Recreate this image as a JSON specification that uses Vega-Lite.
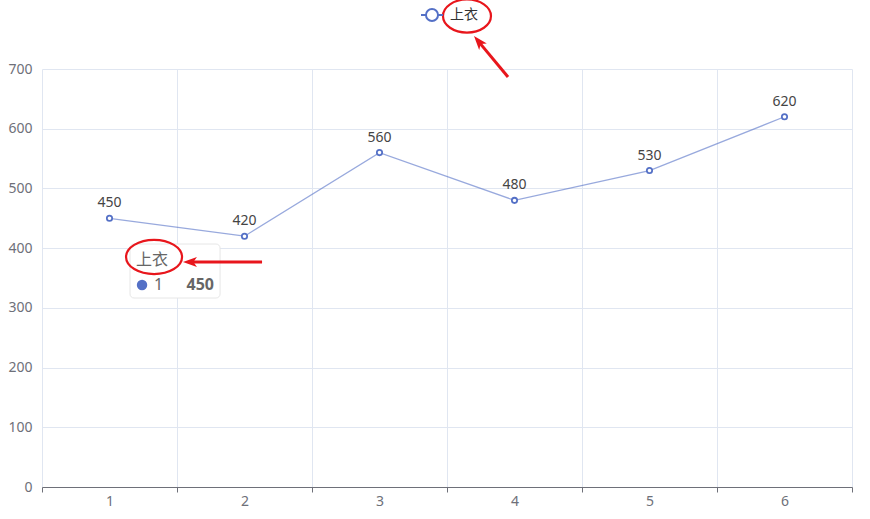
{
  "$schema": "https://vega.github.io/schema/vega-lite/v6.json",
  "width": 810,
  "height": 418,
  "autosize": {"type": "none"},
  "padding": {"left": 42, "top": 69, "right": 18, "bottom": 32},
  "background": "white",
  "config": {
    "view": {"stroke": null},
    "font": "Noto Sans, Noto Sans CJK SC"
  },
  "datasets": {
    "sales": [
      {"idx": 1, "value": 450, "series": "上衣"},
      {"idx": 2, "value": 420, "series": "上衣"},
      {"idx": 3, "value": 560, "series": "上衣"},
      {"idx": 4, "value": 480, "series": "上衣"},
      {"idx": 5, "value": 530, "series": "上衣"},
      {"idx": 6, "value": 620, "series": "上衣"}
    ],
    "tip": [
      {"title": "上衣", "name": "1", "value": 450,
       "boxLeft": 1.152, "boxRight": 1.819, "boxTop": 406.9, "boxBottom": 316.5,
       "titleX": 1.315, "titleY": 380.1, "dotX": 1.241, "rowY": 338.3,
       "nameX": 1.33, "valueX": 1.774}
    ],
    "ellipses": [
      {"target": "legend", "x": 3.648, "y": 788.7},
      {"target": "tooltip", "x": 1.33, "y": 385.2}
    ],
    "arrows": [
      {"target": "legend", "x": 3.952, "y": 686.6, "x2": 3.728, "y2": 747.5, "tipX": 3.7, "tipY": 755.3},
      {"target": "tooltip", "x": 2.13, "y": 376.8, "x2": 1.589, "y2": 376.8, "tipX": 1.544, "tipY": 376.8}
    ]
  },
  "layer": [
    {
      "data": {"name": "sales"},
      "mark": {"type": "line", "strokeWidth": 1.3, "opacity": 0.6},
      "encoding": {
        "x": {
          "field": "idx", "type": "quantitative", "title": null,
          "scale": {"domain": [0.5, 6.5], "nice": false, "zero": false},
          "axis": {
            "values": [0.5, 1.5, 2.5, 3.5, 4.5, 5.5, 6.5],
            "labelExpr": "datum.value < 6 ? format(datum.value + 0.5, 'd') : ''",
            "labelOffset": 67.5,
            "labelOverlap": false,
            "labelFlush": false,
            "labelBound": false,
            "labelPadding": 2,
            "labelFontSize": 14,
            "labelColor": "#6E7079",
            "grid": true,
            "gridColor": "#E0E6F1",
            "domainColor": "#6E7079",
            "tickColor": "#6E7079",
            "tickSize": 5
          }
        },
        "y": {
          "field": "value", "type": "quantitative", "title": null,
          "scale": {"domain": [0, 700], "nice": false},
          "axis": {
            "values": [0, 100, 200, 300, 400, 500, 600, 700],
            "domain": false,
            "ticks": false,
            "labelPadding": 10,
            "labelFontSize": 14,
            "labelColor": "#6E7079",
            "gridColor": "#E0E6F1"
          }
        },
        "color": {
          "field": "series", "type": "nominal",
          "scale": {"range": ["#5470c6"]},
          "legend": {
            "orient": "none",
            "legendX": 382,
            "legendY": -62,
            "padding": 0,
            "title": null,
            "symbolType": "M-1.57,0 L-0.86,0 M0.86,0 L1.57,0 M0.86,0 A0.86,0.86 0 1,1 -0.86,0 A0.86,0.86 0 1,1 0.86,0 Z",
            "symbolSize": 196,
            "symbolStrokeWidth": 2,
            "symbolFillColor": "white",
            "symbolStrokeColor": "#5470c6",
            "symbolOpacity": 1,
            "labelOffset": 10,
            "labelFontSize": 14,
            "labelColor": "#333333"
          }
        }
      }
    },
    {
      "data": {"name": "sales"},
      "mark": {"type": "point", "shape": "circle", "filled": true, "fill": "white", "stroke": "#5470c6", "strokeWidth": 1.8, "size": 28, "opacity": 1},
      "encoding": {
        "x": {"field": "idx", "type": "quantitative", "title": null},
        "y": {"field": "value", "type": "quantitative", "title": null}
      }
    },
    {
      "data": {"name": "sales"},
      "mark": {"type": "text", "baseline": "alphabetic", "dy": -11, "fontSize": 14, "color": "#444444"},
      "encoding": {
        "x": {"field": "idx", "type": "quantitative", "title": null},
        "y": {"field": "value", "type": "quantitative", "title": null},
        "text": {"field": "value", "type": "quantitative"}
      }
    },
    {
      "data": {"name": "tip"},
      "mark": {"type": "rect", "fill": "white", "stroke": "#e6e6e6", "strokeWidth": 1, "cornerRadius": 4},
      "encoding": {
        "x": {"field": "boxLeft", "type": "quantitative", "title": null},
        "x2": {"field": "boxRight"},
        "y": {"field": "boxTop", "type": "quantitative", "title": null},
        "y2": {"field": "boxBottom"}
      }
    },
    {
      "data": {"name": "tip"},
      "mark": {"type": "text", "align": "center", "baseline": "middle", "fontSize": 16, "color": "#666666"},
      "encoding": {
        "x": {"field": "titleX", "type": "quantitative", "title": null},
        "y": {"field": "titleY", "type": "quantitative", "title": null},
        "text": {"field": "title"}
      }
    },
    {
      "data": {"name": "tip"},
      "mark": {"type": "point", "shape": "circle", "filled": true, "color": "#5470c6", "size": 110, "opacity": 1},
      "encoding": {
        "x": {"field": "dotX", "type": "quantitative", "title": null},
        "y": {"field": "rowY", "type": "quantitative", "title": null}
      }
    },
    {
      "data": {"name": "tip"},
      "mark": {"type": "text", "align": "left", "baseline": "middle", "fontSize": 16, "color": "#666666"},
      "encoding": {
        "x": {"field": "nameX", "type": "quantitative", "title": null},
        "y": {"field": "rowY", "type": "quantitative", "title": null},
        "text": {"field": "name"}
      }
    },
    {
      "data": {"name": "tip"},
      "mark": {"type": "text", "align": "right", "baseline": "middle", "fontSize": 16, "fontWeight": "bold", "color": "#666666"},
      "encoding": {
        "x": {"field": "valueX", "type": "quantitative", "title": null},
        "y": {"field": "rowY", "type": "quantitative", "title": null},
        "text": {"field": "value", "type": "quantitative"}
      }
    },
    {
      "data": {"name": "ellipses"},
      "transform": [{"filter": "datum.target == 'legend'"}],
      "mark": {"type": "point", "shape": "M-1,0 A1,0.69 0 1,1 1,0 A1,0.69 0 1,1 -1,0 Z", "size": 2304, "filled": false, "stroke": "#e8161c", "strokeWidth": 2.2, "opacity": 1},
      "encoding": {
        "x": {"field": "x", "type": "quantitative", "title": null},
        "y": {"field": "y", "type": "quantitative", "title": null}
      }
    },
    {
      "data": {"name": "ellipses"},
      "transform": [{"filter": "datum.target == 'tooltip'"}],
      "mark": {"type": "point", "shape": "M-1,0 A1,0.61 0 1,1 1,0 A1,0.61 0 1,1 -1,0 Z", "size": 3136, "filled": false, "stroke": "#e8161c", "strokeWidth": 2.2, "opacity": 1},
      "encoding": {
        "x": {"field": "x", "type": "quantitative", "title": null},
        "y": {"field": "y", "type": "quantitative", "title": null}
      }
    },
    {
      "data": {"name": "arrows"},
      "mark": {"type": "rule", "stroke": "#e8161c", "strokeWidth": 3},
      "encoding": {
        "x": {"field": "x", "type": "quantitative", "title": null},
        "y": {"field": "y", "type": "quantitative", "title": null},
        "x2": {"field": "x2"},
        "y2": {"field": "y2"}
      }
    },
    {
      "data": {"name": "arrows"},
      "transform": [{"filter": "datum.target == 'legend'"}],
      "mark": {"type": "point", "shape": "M0,0 L0.5,1.4 L0,1.05 L-0.5,1.4 Z", "size": 400, "angle": -40, "filled": true, "color": "#e8161c", "opacity": 1},
      "encoding": {
        "x": {"field": "tipX", "type": "quantitative", "title": null},
        "y": {"field": "tipY", "type": "quantitative", "title": null}
      }
    },
    {
      "data": {"name": "arrows"},
      "transform": [{"filter": "datum.target == 'tooltip'"}],
      "mark": {"type": "point", "shape": "M0,0 L0.5,1.4 L0,1.05 L-0.5,1.4 Z", "size": 400, "angle": -90, "filled": true, "color": "#e8161c", "opacity": 1},
      "encoding": {
        "x": {"field": "tipX", "type": "quantitative", "title": null},
        "y": {"field": "tipY", "type": "quantitative", "title": null}
      }
    }
  ]
}
